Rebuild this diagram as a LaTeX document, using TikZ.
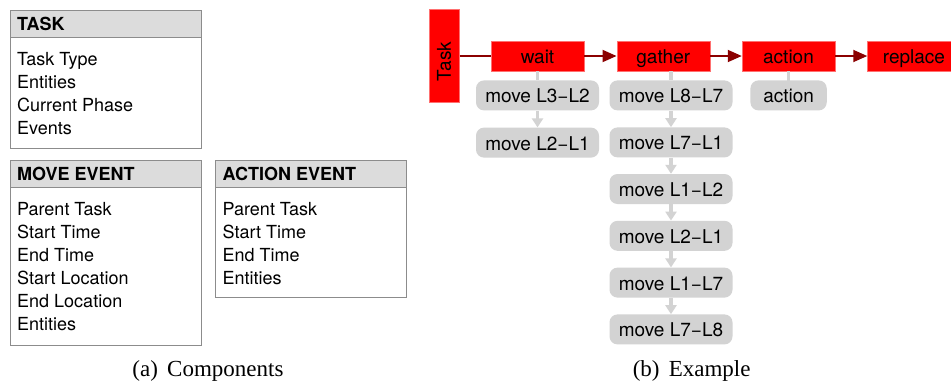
\documentclass[tikz,border=0pt]{standalone}
\usepackage{fontspec}
\setmainfont{TeX Gyre Heros}
\newfontfamily\capfont{Liberation Serif}
\usetikzlibrary{arrows.meta,calc}
\definecolor{boxgray}{HTML}{8C8C8C}
\definecolor{hdrgray}{HTML}{DCDCDC}
\definecolor{nodegray}{HTML}{D3D3D3}
\definecolor{darkred}{HTML}{8B0000}
\definecolor{edgered}{HTML}{FF7070}
\newcommand{\mns}{\char"2212\relax}
\begin{document}
\begin{tikzpicture}[x=1pt,y=-1pt,
  frame/.style={draw=boxgray, line width=0.9pt, anchor=north west, inner sep=0},
  hdr/.style={frame, fill=hdrgray, minimum width=191pt, minimum height=27pt},
  hdrtext/.style={anchor=base west, inner sep=0, font=\fontsize{18}{21}\selectfont\bfseries},
  item/.style={anchor=base west, inner sep=0, font=\fontsize{18}{21}\selectfont},
  redbase/.style={fill=red, draw=edgered, line width=0.5pt, inner sep=0, font=\fontsize{19}{22}\selectfont},
  redbox/.style={redbase, minimum width=93pt, minimum height=30pt, text height=14pt, text depth=0pt},
  graybox/.style={fill=nodegray, rounded corners=8pt, minimum width=123pt, minimum height=30pt, inner sep=0, text height=15pt, text depth=0pt, font=\fontsize{19}{22}\selectfont},
  flow/.style={draw=darkred, line width=1.8pt, -{Triangle[length=14pt,width=12pt]}},
  flowplain/.style={draw=darkred, line width=1.8pt},
  sub/.style={draw=nodegray, line width=3.2pt},
  subarrow/.style={sub, -{Triangle[length=9pt,width=11pt]}},
  captext/.style={anchor=base, inner sep=0, font=\capfont\fontsize{23}{27}\selectfont}
]
\useasboundingbox (0,0) rectangle (951,383);
\clip (0,0) rectangle (951,383);

% ---------- (a) Components ----------
\node[frame, minimum width=191pt, minimum height=138pt] (taskbox) at (10,10) {};
\node[hdr] (taskhdr) at (10,10) {};
\node[hdrtext] (tasktitle) at (17,30.7) {TASK};
\node[item] (t1) at (17,65.7) {Task Type};
\node[item] (t2) at (17,88.7) {Entities};
\node[item] (t3) at (17,111.7) {Current Phase};
\node[item] (t4) at (17,134.7) {Events};

\node[frame, minimum width=191pt, minimum height=185pt] (movebox) at (10,160) {};
\node[hdr] (movehdr) at (10,160) {};
\node[hdrtext] (movetitle) at (17,180.7) {MOVE EVENT};
\node[item] (m1) at (17,215.7) {Parent Task};
\node[item] (m2) at (17,238.7) {Start Time};
\node[item] (m3) at (17,261.7) {End Time};
\node[item] (m4) at (17,284.7) {Start Location};
\node[item] (m5) at (17,307.7) {End Location};
\node[item] (m6) at (17,330.7) {Entities};

\node[frame, minimum width=191pt, minimum height=137pt] (actbox) at (215,160) {};
\node[hdr] (acthdr) at (215,160) {};
\node[hdrtext] (acttitle) at (222.5,180.7) {ACTION EVENT};
\node[item] (a1) at (222.5,215.7) {Parent Task};
\node[item] (a2) at (222.5,238.7) {Start Time};
\node[item] (a3) at (222.5,261.7) {End Time};
\node[item] (a4) at (222.5,284.7) {Entities};

% ---------- (b) Example ----------
\node[redbase, minimum width=30.5pt, minimum height=93.5pt] (task) at (444,55.5) {\rotatebox{90}{Task\hspace{12pt}}};
\node[redbox] (wait) at (537.5,56) {wait};
\node[redbox] (gather) at (663.3,56) {gather};
\node[redbox] (action) at (788.5,56) {action};
\node[redbox] (replace) at (914,56) {replace};

\node[graybox] (w1) at (537.5,95.4) {move L3\mns L2};
\node[graybox] (w2) at (537.5,142.6) {move L2\mns L1};

\node[graybox] (g1) at (671,95.4) {move L8\mns L7};
\node[graybox] (g2) at (671,142.4) {move L7\mns L1};
\node[graybox] (g3) at (671,189) {move L1\mns L2};
\node[graybox] (g4) at (671,235.8) {move L2\mns L1};
\node[graybox] (g5) at (671,282.6) {move L1\mns L7};
\node[graybox] (g6) at (671,329.4) {move L7\mns L8};

\node[graybox, minimum width=76.3pt] (aact) at (788.6,95.4) {action};

\draw[flowplain] (task.east |- wait.west) -- (wait.west);
\draw[flow] (wait) -- (gather);
\draw[flow] (gather) -- (action);
\draw[flow] (action) -- (replace);

\draw[sub] (wait) -- (w1);
\draw[subarrow] (w1) -- (w2);
\draw[sub] (gather.south -| g1.north) -- (g1.north);
\draw[subarrow] (g1) -- (g2);
\draw[subarrow] (g2) -- (g3);
\draw[subarrow] (g3) -- (g4);
\draw[subarrow] (g4) -- (g5);
\draw[subarrow] (g5) -- (g6);
\draw[sub] (action.south -| aact.north) -- ($(aact.north)+(0,10)$);

\node[captext] (capa) at (208,376.7) {(a)\hspace{0.4em}Components};
\node[captext] (capb) at (691.7,376.7) {(b)\hspace{0.4em}Example};
\end{tikzpicture}
\end{document}
